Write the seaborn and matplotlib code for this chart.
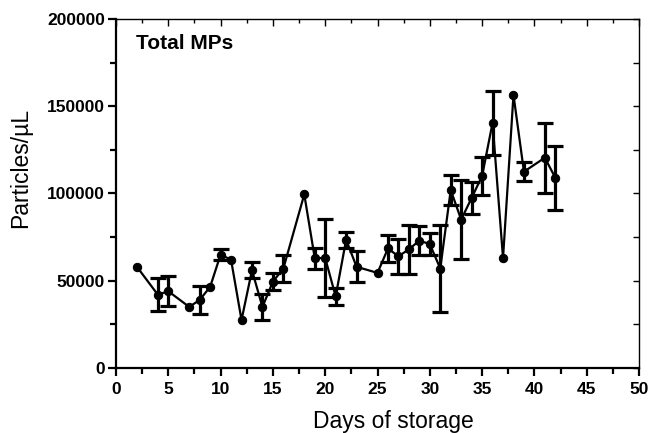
import numpy as np
import matplotlib
matplotlib.use("Agg")
import matplotlib.pyplot as plt
from matplotlib.ticker import MultipleLocator
import seaborn as sns
import pandas as pd

days = [2, 4, 5, 7, 8, 9, 10, 11, 12, 13, 14, 15, 16, 18, 19, 20, 21, 22, 23, 25,
        26, 27, 28, 29, 30, 31, 32, 33, 34, 35, 36, 37, 38, 39, 41, 42]
particles = [58000, 42000, 44000, 35000, 39000, 46500, 65000, 62000, 27500, 56000,
             35000, 49500, 57000, 99500, 63000, 63000, 41000, 73500, 58000, 54500,
             68500, 64000, 68000, 73000, 71000, 57000, 102000, 85000, 97500, 110000,
             140500, 63000, 156500, 112500, 120500, 109000]
errors = [0, 9500, 8500, 0, 8000, 0, 3000, 0, 0, 4500,
          7500, 5000, 7500, 0, 6000, 22500, 5000, 4500, 9000, 0,
          7500, 10000, 14000, 8500, 6500, 25000, 8500, 22500, 9000, 11000,
          18500, 0, 0, 5500, 20000, 18500]

df = pd.DataFrame({"day": days, "val": particles, "err": errors})

sns.set_style("ticks")
plt.rcParams["font.family"] = ["Liberation Sans", "DejaVu Sans"]
for k in ["text.color", "axes.labelcolor", "xtick.color", "ytick.color",
          "axes.edgecolor"]:
    plt.rcParams[k] = "black"

fig = plt.figure(figsize=(6.54, 4.33), dpi=100)
ax = fig.add_axes([116/654, 1-368/433, 523/654, 349/433])

eb = df[df["err"] > 0]
ax.errorbar(eb["day"], eb["val"], yerr=eb["err"], fmt="none", ecolor="black",
            elinewidth=2.3, capsize=5.5, capthick=2.3, zorder=2)
sns.lineplot(data=df, x="day", y="val", ax=ax, color="black", linewidth=1.6,
             marker="o", markersize=6, markeredgecolor="black",
             markerfacecolor="black", zorder=3)

ax.set_xlim(0, 50)
ax.set_ylim(0, 200000)
ax.xaxis.set_major_locator(MultipleLocator(5))
ax.xaxis.set_minor_locator(MultipleLocator(2.5))
ax.yaxis.set_major_locator(MultipleLocator(50000))
ax.yaxis.set_minor_locator(MultipleLocator(25000))
ax.set_xlabel("")
ax.set_ylabel("")

for s in ["left", "bottom"]:
    ax.spines[s].set_linewidth(1.6)
    ax.spines[s].set_color("black")
for s in ["top", "right"]:
    ax.spines[s].set_visible(False)

ax.tick_params(axis="both", which="major", direction="out", length=6, width=1.6,
               color="black", labelcolor="black", labelsize=12.5, pad=2)
ax.tick_params(axis="both", which="minor", direction="out", length=4, width=1.6,
               color="black")
ax.tick_params(axis="x", which="major", pad=4)
for lab in ax.get_xticklabels() + ax.get_yticklabels():
    lab.set_fontweight("bold")

sx = ax.secondary_xaxis("top")
sx.xaxis.set_major_locator(MultipleLocator(5))
sx.xaxis.set_minor_locator(MultipleLocator(2.5))
sx.tick_params(which="major", direction="in", length=5, width=1.0, labeltop=False)
sx.tick_params(which="minor", direction="in", length=3, width=1.0)
sx.spines["top"].set_linewidth(1.0)

sy = ax.secondary_yaxis("right")
sy.yaxis.set_major_locator(MultipleLocator(25000))
sy.tick_params(which="major", direction="in", length=4, width=1.0, labelright=False)
sy.tick_params(which="minor", length=0)
sy.spines["right"].set_linewidth(1.0)

ax.text(0.038, 0.914, "Total MPs", transform=ax.transAxes, fontsize=15,
        fontweight="bold", ha="left", va="baseline", color="black")

fig.text(393/654, 1-428/433, "Days of storage", fontsize=16.5, ha="center",
         va="baseline", color="black")
fig.text(21/654, 1-168/433, "Particles/\u00b5L", fontsize=16.5, rotation=90,
         ha="center", va="center", color="black")

fig.savefig("out.png", dpi=100)
